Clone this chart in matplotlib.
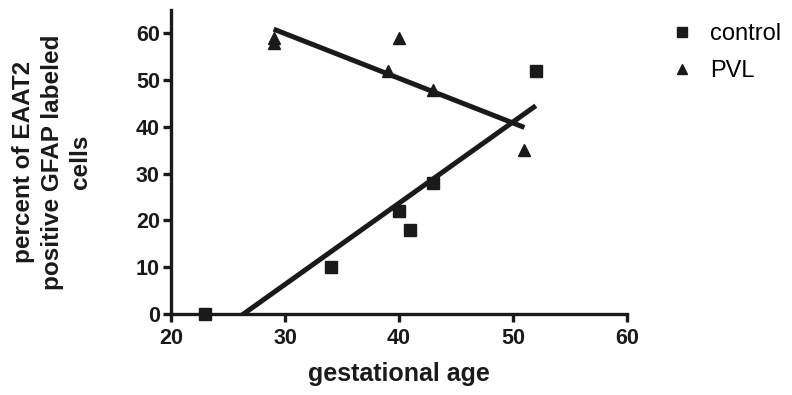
import numpy as np
import matplotlib
matplotlib.use("Agg")
import matplotlib.pyplot as plt
from matplotlib.lines import Line2D

plt.rcParams['font.family'] = ['Liberation Sans', 'DejaVu Sans']

# data
control_age = [23, 34, 40, 41, 43, 52]
control_pct = [0, 10, 22, 18, 28, 52]
pvl_age = [29, 29, 39, 40, 43, 51]
pvl_pct = [58, 59, 52, 59, 48, 35]
xticks = [20, 30, 40, 50, 60]
yticks = [0, 10, 20, 30, 40, 50, 60]

ink = '#1a1a1a'
W, H = 792, 395
fig = plt.figure(figsize=(7.92, 3.95), dpi=100)
ax = fig.add_axes([171 / W, 1 - 314 / H, (627 - 171) / W, (314 - 10) / H])

# regression lines
for xs, ys in [(control_age, control_pct), (pvl_age, pvl_pct)]:
    xs = np.array(xs, float); ys = np.array(ys, float)
    m, b = np.polyfit(xs, ys, 1)
    xl = np.array([xs.min(), xs.max()])
    ax.plot(xl, m * xl + b, color=ink, lw=3.6, solid_capstyle='butt', zorder=2)

ax.plot(control_age, control_pct, 's', color=ink, ms=8.5, ls='none', zorder=3, clip_on=False)
ax.plot(pvl_age, pvl_pct, '^', color=ink, ms=8.5, ls='none', zorder=3, clip_on=False)

ax.set_xlim(20, 60)
ax.set_ylim(0, 65)
ax.set_xticks(xticks)
ax.set_yticks(yticks)
for s in ['top', 'right']:
    ax.spines[s].set_visible(False)
for s in ['left', 'bottom']:
    ax.spines[s].set_linewidth(2.4)
    ax.spines[s].set_color(ink)
ax.tick_params(width=2.4, length=6, color=ink, labelsize=15.5, labelcolor=ink)
ax.tick_params(axis='x', pad=4)
ax.tick_params(axis='y', pad=2)
for lab in ax.get_xticklabels() + ax.get_yticklabels():
    lab.set_fontweight('bold')

fig.text(399 / W, 1 - 374 / H, 'gestational age', fontsize=18, fontweight='bold',
         color=ink, ha='center', va='center')
fig.text(52 / W, 1 - 162 / H, 'percent of EAAT2\npositive GFAP labeled\ncells',
         fontsize=17.5, fontweight='bold', color=ink, ha='center', va='center',
         rotation=90, multialignment='center', linespacing=1.3)

handles = [Line2D([], [], marker='s', ls='none', color=ink, ms=7.5),
           Line2D([], [], marker='^', ls='none', color=ink, ms=7.5)]
fig.legend(handles, ['control', 'PVL'], loc='upper left', bbox_to_anchor=(0.8343, 0.966),
           frameon=False, fontsize=17, handlelength=1.0, handletextpad=0.69,
           labelspacing=0.66, borderaxespad=0)

fig.savefig('out.png', dpi=100)
